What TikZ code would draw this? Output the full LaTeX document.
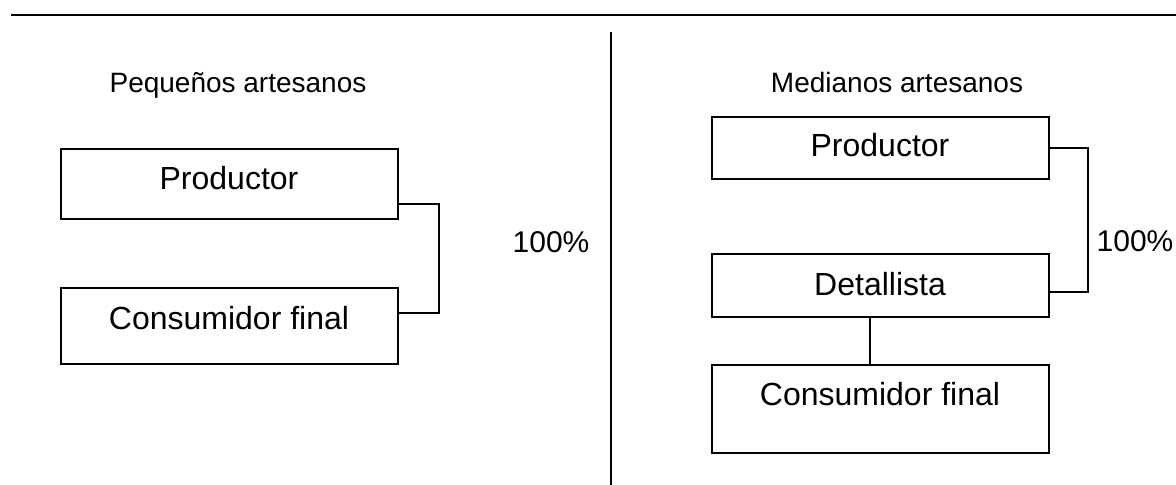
\documentclass[tikz,border=0pt]{standalone}
\usepackage{fontspec}
\setmainfont{Liberation Sans}
\begin{document}
\begin{tikzpicture}[x=0.5pt,y=-0.5pt,line width=1pt,
    caja/.style 2 args={draw,inner sep=0pt,minimum width=168.5pt,text height=#1,text depth=#2,
        anchor=base,font=\fontsize{16pt}{19pt}\selectfont},
    titulo/.style={anchor=base,font=\fontsize{14pt}{17pt}\selectfont},
    pct/.style={anchor=base,font=\fontsize{15pt}{18pt}\selectfont}]
    \def\ancho{1176} \def\alto{485}
    \useasboundingbox (0,0) rectangle (\ancho,\alto);
    \draw (11,15)--(\ancho,15);
    \draw (611,32)--(611,\alto);
    %===========================================
    % pequenos artesanos
    \node[titulo] (tPeq) at (238,93) {Pequeños artesanos};
    \node[caja={20.5pt}{14.5pt}] (prodL) at (229,190) {Productor};
    \node[caja={21pt}{17pt}] (consL) at (229,330) {Consumidor final};
    \node[pct] (pctL) at (551,253) {100\%};
    \draw ([yshift=8pt]prodL.south east)--++(40,0) |- ([yshift=-13pt]consL.north east);
    %===========================================
    % medianos artesanos
    \node[titulo] (tMed) at (897,93) {Medianos artesanos};
    \node[caja={20pt}{11pt}] (prodR) at (880,157) {Productor};
    \node[caja={21pt}{10.5pt}] (detR) at (880,296) {Detallista};
    \node[caja={20.5pt}{23.5pt}] (consR) at (880,406) {Consumidor final};
    \node[pct] (pctR) at (1135,252) {100\%};
    \draw (prodR.east)--++(38,0) |- ([yshift=13pt]detR.south east);
    \draw ([xshift=-5pt]detR.south)--([xshift=-5pt]consR.north);
\end{tikzpicture}
\end{document}
